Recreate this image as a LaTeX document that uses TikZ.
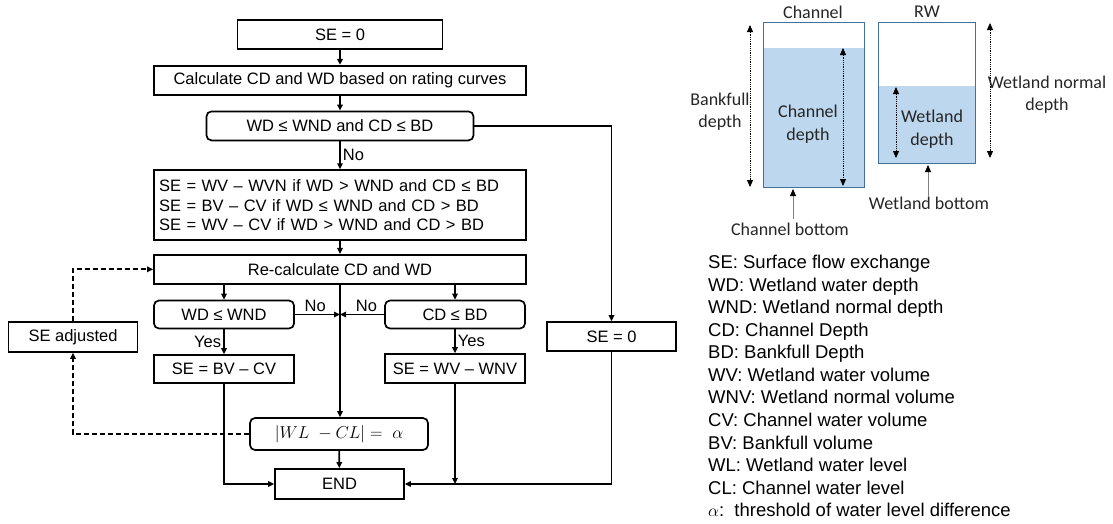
\documentclass[tikz,border=0pt]{standalone}
\usepackage{fontspec}
\setmainfont{Liberation Sans}
\newfontfamily\calfont{Carlito}
\usetikzlibrary{arrows.meta, positioning, calc}
\definecolor{tankblue}{HTML}{41719C}
\definecolor{waterblue}{HTML}{BDD7EE}
\definecolor{labelgray}{HTML}{262626}
\newcommand{\flowfont}{\fontsize{16.5}{19.5}\selectfont}
\newcommand{\sketchfont}{\calfont\fontsize{18}{22.5}\selectfont}
\newcommand{\legendfont}{\fontsize{18.5}{22.55}\selectfont}
\tikzset{
  fbox/.style={draw, line width=1.7pt, align=center, inner sep=0pt, minimum height=29pt, font=\flowfont},
  fdec/.style={fbox, rounded corners=5pt},
  fflow/.style={-{Triangle[length=6pt, width=5.5pt]}, line width=1.7pt},
  fdash/.style={fflow, dash pattern=on 5pt off 3pt},
  flbl/.style={font=\flowfont, inner sep=2pt},
  tank/.style={draw=tankblue, line width=0.8pt},
  dimarr/.style={{Triangle[length=7pt, width=6pt]}-{Triangle[length=7pt, width=6pt]}, densely dotted, line width=0.8pt},
  ptr/.style={-{Triangle[length=7pt, width=6pt, color=black]}, draw=gray, line width=0.9pt},
  slbl/.style={font=\sketchfont, text=labelgray, align=center, inner sep=0pt},
}

\begin{document}
\begin{tikzpicture}[x=1pt, y=1pt]
    \useasboundingbox (0,0) rectangle (1113,-523);
    % main column
    \node[fbox, minimum width=205pt] (start) at (340,-34.5) {SE = 0};
    \node[fbox, minimum width=372pt, below=15pt of start] (calc) {Calculate CD and WD based on rating curves};
    \node[fdec, minimum width=267pt, below=15pt of calc] (chk) {WD ≤ WND and CD ≤ BD};
    \node[fbox, text width=362pt, inner xsep=5pt, minimum height=70pt, align=left, below=28pt of chk] (cases) {SE = WV – WVN if WD > WND and CD ≤ BD\\SE = BV – CV if WD ≤ WND and CD > BD\\SE = WV – CV if WD > WND and CD > BD};
    \node[fbox, minimum width=372pt, below=13pt of cases] (recalc) {Re-calculate CD and WD};
    % branches
    \node[fdec, minimum width=140pt, minimum height=28pt] (wdq) at (224,-314.5) {WD ≤ WND};
    \node[fdec, minimum width=140pt, minimum height=28pt] (cdq) at (455,-314.5) {CD ≤ BD};
    \node[fbox, minimum width=140pt, minimum height=28pt] (bvcv) at (224,-369) {SE = BV – CV};
    \node[fbox, minimum width=140pt] (wvwnv) at (455,-368.5) {SE = WV – WNV};
    \node[fbox, minimum width=129pt, minimum height=30pt] (seadj) at (73,-337) {SE adjusted};
    \node[fbox, minimum width=129pt] (sezero) at (611.5,-336.5) {SE = 0};
    \node[fdec, minimum width=178pt, minimum height=32pt, font=\fontsize{18}{20}\selectfont] (eqn) at (339,-434) {$|WL\ -CL| =\ \alpha$};
    \node[fbox, minimum width=129pt, minimum height=30pt] (fin) at (339.5,-484) {END};

    \draw[fflow] (start) -- (calc);
    \draw[fflow] (calc) -- (chk);
    \draw[fflow] (chk) -- node[flbl, right]{No} (cases);
    \draw[fflow] (cases) -- (recalc);
    \draw[fflow] (recalc.south -| wdq) -- (wdq);
    \draw[fflow] (recalc.south -| cdq) -- (cdq);
    \draw[fflow] (recalc.south) -- (recalc.south |- eqn.north);
    \draw[fflow] (wdq) -- node[flbl, above, pos=0.45]{No} (wdq -| recalc.south);
    \draw[fflow] (cdq) -- node[flbl, above, pos=0.4]{No} (cdq -| recalc.south);
    \draw[fflow] (wdq) -- node[flbl, left]{Yes} (bvcv);
    \draw[fflow] (cdq) -- node[flbl, right]{Yes} (wvwnv);
    \draw[fflow] (bvcv) |- (fin);
    \draw[fflow] (wvwnv) -- (wvwnv |- fin);
    \draw[fflow] (chk) -| (sezero);
    \draw[fflow] (sezero) |- (fin);
    \draw[fflow] (eqn) -- (fin);
    \draw[fdash] (eqn) -| (seadj);
    \draw[fdash] (seadj) |- (recalc);

    % channel and wetland sketch
    \fill[waterblue] (763,-48) rectangle (864,-187);
    \draw[tank] (763,-22) rectangle (864,-187);
    \fill[waterblue] (878,-86) rectangle (975,-163);
    \draw[tank] (878,-22) rectangle (975,-163);
    \node[slbl] (chname) at (813,-12) {Channel};
    \node[slbl] (rwname) at (927,-12) {RW};
    \draw[dimarr] (750,-25) -- (750,-187);
    \node[slbl] (bfd) at (720,-111.5) {Bankfull\\depth};
    \draw[dimarr] (843,-48) -- (843,-186);
    \node[slbl] (chd) at (808,-124) {Channel\\depth};
    \draw[dimarr] (896,-87) -- (896,-158);
    \node[slbl] (wdep) at (932,-129) {Wetland\\depth};
    \draw[dimarr] (990,-23) -- (990,-158);
    \node[slbl] (wnd) at (1047,-94.5) {Wetland normal\\depth};
    \node[slbl] (chbot) at (790,-229) {Channel bottom};
    \draw[ptr] (793,-219) -- (793,-189);
    \node[slbl] (wbot) at (929,-203) {Wetland bottom};
    \draw[ptr] (928,-196) -- (928,-165);

    % legend
    \node[font=\legendfont, align=left, anchor=north west, inner sep=0pt] (legend) at (708,-255) {SE: Surface flow exchange\\WD: Wetland water depth\\WND: Wetland normal depth\\CD: Channel Depth\\BD: Bankfull Depth\\WV: Wetland water volume\\WNV: Wetland normal volume\\CV: Channel water volume\\BV: Bankfull volume\\WL: Wetland water level\\CL: Channel water level\\$\alpha$:\ \ threshold of water level difference};
  \end{tikzpicture}
\end{document}
